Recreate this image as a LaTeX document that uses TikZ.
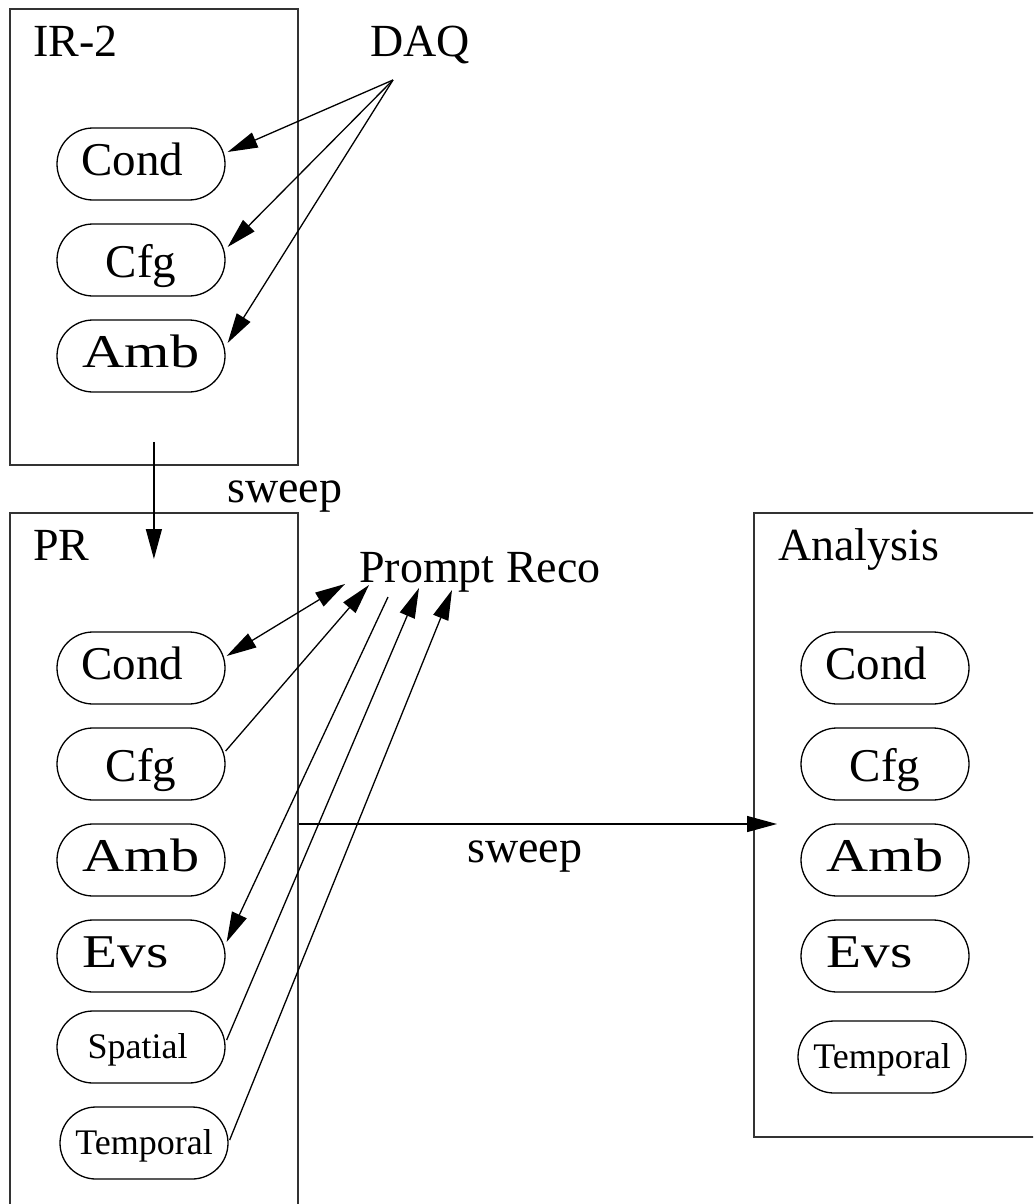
\documentclass[tikz,border=0pt]{standalone}
\usepackage{fontspec}
\setmainfont{Liberation Serif}
\usepackage{graphicx}
\usetikzlibrary{arrows.meta}
\begin{document}
\begin{tikzpicture}[x=1pt,y=-1pt,
  box/.style={draw=black!80, line width=1.8pt, inner sep=0pt},
  lbl/.style={inner sep=0pt, font=\fontsize{46}{50}\selectfont},
  pill/.style={draw, line width=1.3pt, rounded corners=36pt, minimum width=168pt,
    minimum height=72pt, inner sep=0pt, text height=32pt, text depth=10pt,
    font=\fontsize{47}{50}\selectfont},
  small/.style={font=\fontsize{36}{40}\selectfont},
  arr/.style={line width=1.3pt, -{Triangle[length=30pt,width=16pt]}},
  darr/.style={line width=1.3pt, {Triangle[length=30pt,width=16pt]}-{Triangle[length=30pt,width=16pt]}}
]
\useasboundingbox (0,0) rectangle (1033,1204);
\clip (0,0) rectangle (1033,1204);

% containers
\node[box, minimum width=288pt, minimum height=456pt, anchor=north west] (ir2) at (9,8) {};
\node[box, minimum width=288pt, minimum height=730pt, anchor=north west] (pr) at (9,512) {};
\node[box, minimum width=320pt, minimum height=624pt, anchor=north west] (ana) at (753,512) {};

% labels
\node[lbl, anchor=base west] (ir2lbl) at (33,57) {IR-2};
\node[lbl, anchor=base west] (daq) at (370,57) {DAQ};
\node[lbl, anchor=base west] (prlbl) at (33,560) {PR};
\node[lbl, anchor=base west] (reco) at (359,582) {Prompt Reco};
\node[lbl, anchor=base west] (analbl) at (778,560) {Analysis};
\node[lbl, anchor=base west] (sweepa) at (227,502) {sweep};
\node[lbl, anchor=base west] (sweepb) at (467,862) {sweep};

% IR-2 pills
\node[pill] (ic1) at (141,164) {Cond\kern17pt};
\node[pill] (ic2) at (141,260) {\raisebox{-6pt}{Cfg}};
\node[pill] (ic3) at (141,356) {\scalebox{1.24}[1]{Amb}};

% PR pills
\node[pill] (pc1) at (141,668) {Cond\kern17pt};
\node[pill] (pc2) at (141,764) {\raisebox{-6pt}{Cfg}};
\node[pill] (pc3) at (141,860) {\scalebox{1.24}[1]{Amb}};
\node[pill] (pc4) at (141,956) {\scalebox{1.22}[1]{Evs}\kern31pt};
\node[pill, small] (pc5) at (141,1047) {Spatial\kern7pt};
\node[pill, small] (pc6) at (144,1143) {Temporal};

% Analysis pills
\node[pill] (ac1) at (885,668) {Cond\kern17pt};
\node[pill] (ac2) at (885,764) {\raisebox{-6pt}{Cfg}};
\node[pill] (ac3) at (885,860) {\scalebox{1.24}[1]{Amb}};
\node[pill] (ac4) at (885,956) {\scalebox{1.22}[1]{Evs}\kern31pt};
\node[pill, small] (ac5) at (882,1057) {Temporal};

% DAQ arrows
\draw[arr] ([shift={(23,23)}]daq.base west) -- ([shift={(2,-12)}]ic1.east);
\draw[arr] ([shift={(23,23)}]daq.base west) -- ([shift={(2,-13)}]ic2.east);
\draw[arr] ([shift={(23,23)}]daq.base west) -- ([shift={(2,-13)}]ic3.east);

% sweep IR-2 -> PR
\draw[arr] ([shift={(0,-24)}]ir2.south) -- ([shift={(0,47)}]pr.north);

% Prompt Reco arrows
\draw[darr] ([shift={(1,-12)}]pc1.east) -- ([shift={(-14,2)}]reco.base west);
\draw[arr] ([shift={(0,-13)}]pc2.east) -- ([shift={(10,3)}]reco.base west);
\draw[arr] ([shift={(29,15)}]reco.base west) -- ([shift={(1,-14)}]pc4.east);
\draw[arr] ([shift={(1,-7)}]pc5.east) -- ([shift={(60,6)}]reco.base west);
\draw[arr] ([shift={(1,-3)}]pc6.east) -- ([shift={(93,8)}]reco.base west);

% sweep PR -> Analysis
\draw[arr] ([shift={(0,312)}]pr.north east) -- ([shift={(24,312)}]ana.north west);
\end{tikzpicture}
\end{document}
